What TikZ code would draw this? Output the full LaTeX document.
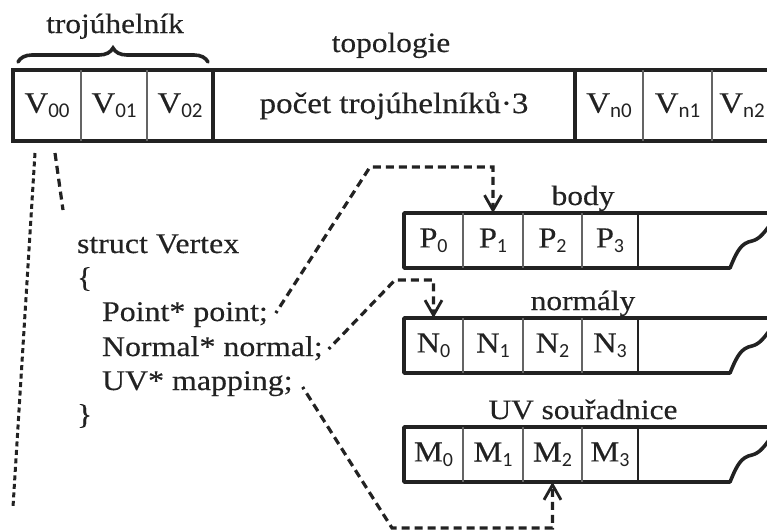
\documentclass[tikz,border=0pt]{standalone}
\usepackage{fontspec}
\setmainfont{Liberation Serif}[FakeStretch=1.12, FakeBold=0.35]
\newfontfamily\subfont{Carlito}
\usetikzlibrary{decorations.pathreplacing,arrows.meta,calc}
\definecolor{ink}{HTML}{222222}
\newcommand\subT[1]{\raisebox{-5pt}{\subfont\fontsize{21}{21}\selectfont #1}}
\newcommand\subL[1]{\raisebox{-5pt}{\subfont\fontsize{20}{20}\selectfont #1}}
\begin{document}
\begin{tikzpicture}[x=1pt,y=-1pt,
  every node/.style={text=ink, inner sep=0pt, outer sep=0pt},
  toprow/.style={font=\fontsize{29.5}{30}\selectfont, minimum height=71pt},
  lowcell/.style={font=\fontsize{29}{29}\selectfont, minimum height=55pt},
  lbl/.style={font=\fontsize{28}{30}\selectfont, anchor=base},
  code/.style={font=\fontsize{28.5}{30}\selectfont, anchor=base west},
  frame/.style={line width=3.6pt, draw=ink, line join=miter},
  thickdiv/.style={line width=3.6pt, draw=ink},
  thindiv/.style={line width=1.4pt, draw=ink!70},
  ptr/.style={line width=3.2pt, draw=ink, dash pattern=on 8pt off 5pt},
  finedash/.style={line width=3pt, draw=ink, dash pattern=on 5pt off 3.5pt},
  tipend/.style={-{Straight Barb[length=15pt,width=17pt,line width=2.8pt]}},
]
\clip (0,0) rectangle (767,530);

% ---- top row (topology) ----
\node[lbl] (troj) at (115,33) {trojúhelník};
\draw[line width=3.6pt, line cap=round, draw=ink, decorate,
      decoration={brace, amplitude=14pt}] (18,62) -- (208,62);
\node[lbl] (topo) at (391,52) {topologie};

\draw[frame] (13,70) rectangle (830,141);
\node[toprow, minimum width=68pt] (v00) at (47,105.5) {V\subT{00}};
\node[toprow, minimum width=66pt] (v01) at (114,105.5) {V\subT{01}};
\node[toprow, minimum width=66pt] (v02) at (180,105.5) {V\subT{02}};
\node[toprow, minimum width=362pt] (pocet) at (394,105.5) {počet trojúhelníků·3};
\node[toprow, minimum width=68pt] (vn0) at (609,105.5) {V\subT{n0}};
\node[toprow, minimum width=69pt] (vn1) at (677.5,105.5) {V\subT{n1}};
\node[toprow] (vn2) at (742,105.5) {V\subT{n2}};
\draw[thindiv] (v00.north east) -- (v00.south east);
\draw[thindiv] (v01.north east) -- (v01.south east);
\draw[thickdiv] (v02.north east) -- (v02.south east);
\draw[thickdiv] (pocet.north east) -- (pocet.south east);
\draw[thindiv] (vn0.north east) -- (vn0.south east);
\draw[thindiv] (vn1.north east) -- (vn1.south east);

% ---- lower buffers ----
\foreach \n/\L/\lab/\y in {p/P/body/213, n/N/normály/318, m/M/UV souřadnice/427}{
  \node[lbl] (lab\n) at (583,\y-8) {\lab};
  \draw[frame, line join=round] (830,\y) -- (404,\y) -- (404,\y+55) -- (730,\y+55)
     .. controls (737,\y+38) and (741,\y+30) .. (752,\y+28)
     .. controls (760,\y+26) and (765,\y+19) .. (774,\y+6);
  \node[lowcell, minimum width=59pt] (\n0) at (433.5,\y+27.5) {\L\subL{0}};
  \node[lowcell, minimum width=60pt] (\n1) at (493,\y+27.5) {\L\subL{1}};
  \node[lowcell, minimum width=59pt] (\n2) at (552.5,\y+27.5) {\L\subL{2}};
  \node[lowcell, minimum width=56pt] (\n3) at (610,\y+27.5) {\L\subL{3}};
  \draw[thindiv] (\n0.north east) -- (\n0.south east);
  \draw[thindiv] (\n1.north east) -- (\n1.south east);
  \draw[thindiv] (\n2.north east) -- (\n2.south east);
  \draw[thindiv, draw=ink] (\n3.north east) -- (\n3.south east);
}

% ---- struct ----
\node[code] (s1) at (77,253) {struct Vertex};
\node[code] (s2) at (77,287) {\{};
\node[code] (s3) at (102,321) {Point* point;};
\node[code] (s4) at (102,356) {Normal* normal;};
\node[code] (s5) at (102,390) {UV* mapping;};
\node[code] (s6) at (77,424) {\}};

% ---- V00 expansion lines ----
\coordinate (e1) at ($(v00.south)+(-12,12)$);
\coordinate (e1b) at (13,507);
\coordinate (e2) at ($(v00.south)+(8,12)$);
\coordinate (e2b) at (63,210);
\draw[finedash] (e1) -- (e1b);
\draw[ptr] (e2) -- (e2b);

% ---- pointers ----
\coordinate (d3) at ($(s3.base east)+(8,-8)$);
\coordinate (c3a) at (370,167);
\coordinate (c3b) at (p1.north |- c3a);
\draw[ptr, dash phase=5.5pt, tipend] (d3) -- (c3a) -- (c3b) -- (p1.north);

\coordinate (d4) at ($(s4.base east)+(6,-7)$);
\coordinate (c4a) at (395,280);
\coordinate (c4b) at (n0.north |- c4a);
\draw[ptr, dash phase=5.5pt, tipend] (d4) -- (c4a) -- (c4b) -- (n0.north);

\coordinate (d5) at ($(s5.base east)+(10,-3)$);
\coordinate (c5a) at (392,528);
\coordinate (c5b) at (m2.south |- c5a);
\draw[ptr, dash phase=5.5pt, tipend] (d5) -- (c5a) -- (c5b) -- (m2.south);
\end{tikzpicture}
\end{document}
